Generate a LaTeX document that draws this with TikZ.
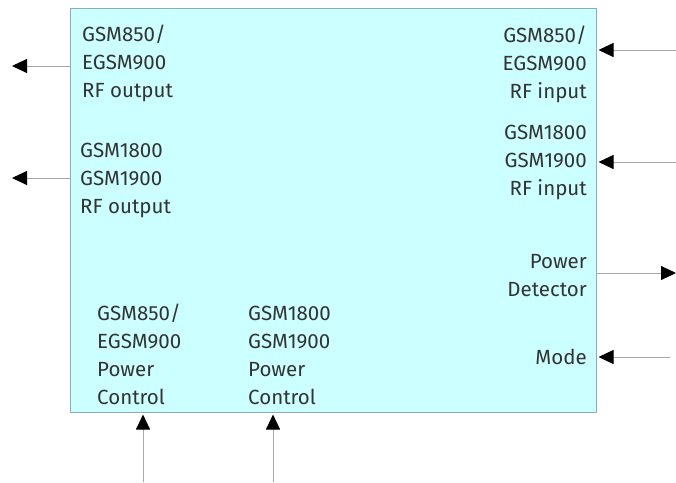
\documentclass[tikz,border=0pt]{standalone}
\usepackage{fontspec}
\setmainfont{Fira Sans}
\usetikzlibrary{arrows.meta}
\definecolor{boxfill}{HTML}{CCFFFF}
\definecolor{boxline}{HTML}{8AAFAF}
\definecolor{txt}{HTML}{333333}
\definecolor{wire}{HTML}{A8A8A8}
\begin{document}
\begin{tikzpicture}[x=1pt,y=-1pt,
  blk/.style={draw=boxline,fill=boxfill,line width=1pt,minimum width=526pt,minimum height=404pt,inner sep=0pt},
  lbl/.style={inner sep=0pt,text=txt,font=\fontsize{20.5}{28}\selectfont},
  lblL/.style={lbl,align=left,anchor=base west},
  lblR/.style={lbl,align=right,anchor=base east},
  sig/.style={draw=wire,line width=0.9pt,-{Triangle[length=15pt,width=14pt,color=black]}}]
\useasboundingbox (0,0) rectangle (676,482);
\node[blk] (box) at (333,210) {};
% labels (anchored at the baseline of their last line)
\node[lblL] (tl) at (82,97) {GSM850/\\EGSM900\\RF output};
\node[lblL] (ml) at (80,213) {GSM1800\\GSM1900\\RF output};
\node[lblR] (tr) at (587,98) {GSM850/\\EGSM900\\RF input};
\node[lblR] (mr) at (587,195) {GSM1800\\GSM1900\\RF input};
\node[lblR] (pd) at (587,296) {Power\\Detector};
\node[lblR] (md) at (587,364) {Mode};
\node[lblL] (b1) at (97,404) {GSM850/\\EGSM900\\Power\\Control};
\node[lblL] (b2) at (248,404) {GSM1800\\GSM1900\\Power\\Control};
% free ends
\coordinate (lo1) at (12,66);
\coordinate (lo2) at (12,178);
\coordinate (ri1) at (676,50);
\coordinate (ri2) at (676,162);
\coordinate (po1) at (676,273);
\coordinate (mi) at (670,357);
\coordinate (bi1) at (143,482);
\coordinate (bi2) at (273,482);
% connectors
\draw[sig] (lo1 -| box.west) -- (lo1);
\draw[sig] (lo2 -| box.west) -- (lo2);
\draw[sig,shorten >=2pt] (ri1) -- (ri1 -| box.east);
\draw[sig,shorten >=2pt] (ri2) -- (ri2 -| box.east);
\draw[sig] (po1 -| box.east) -- (po1);
\draw[sig,shorten >=2pt] (mi) -- (mi -| box.east);
\draw[sig,shorten >=2pt] (bi1) -- (bi1 |- box.south);
\draw[sig,shorten >=2pt] (bi2) -- (bi2 |- box.south);
\end{tikzpicture}
\end{document}
